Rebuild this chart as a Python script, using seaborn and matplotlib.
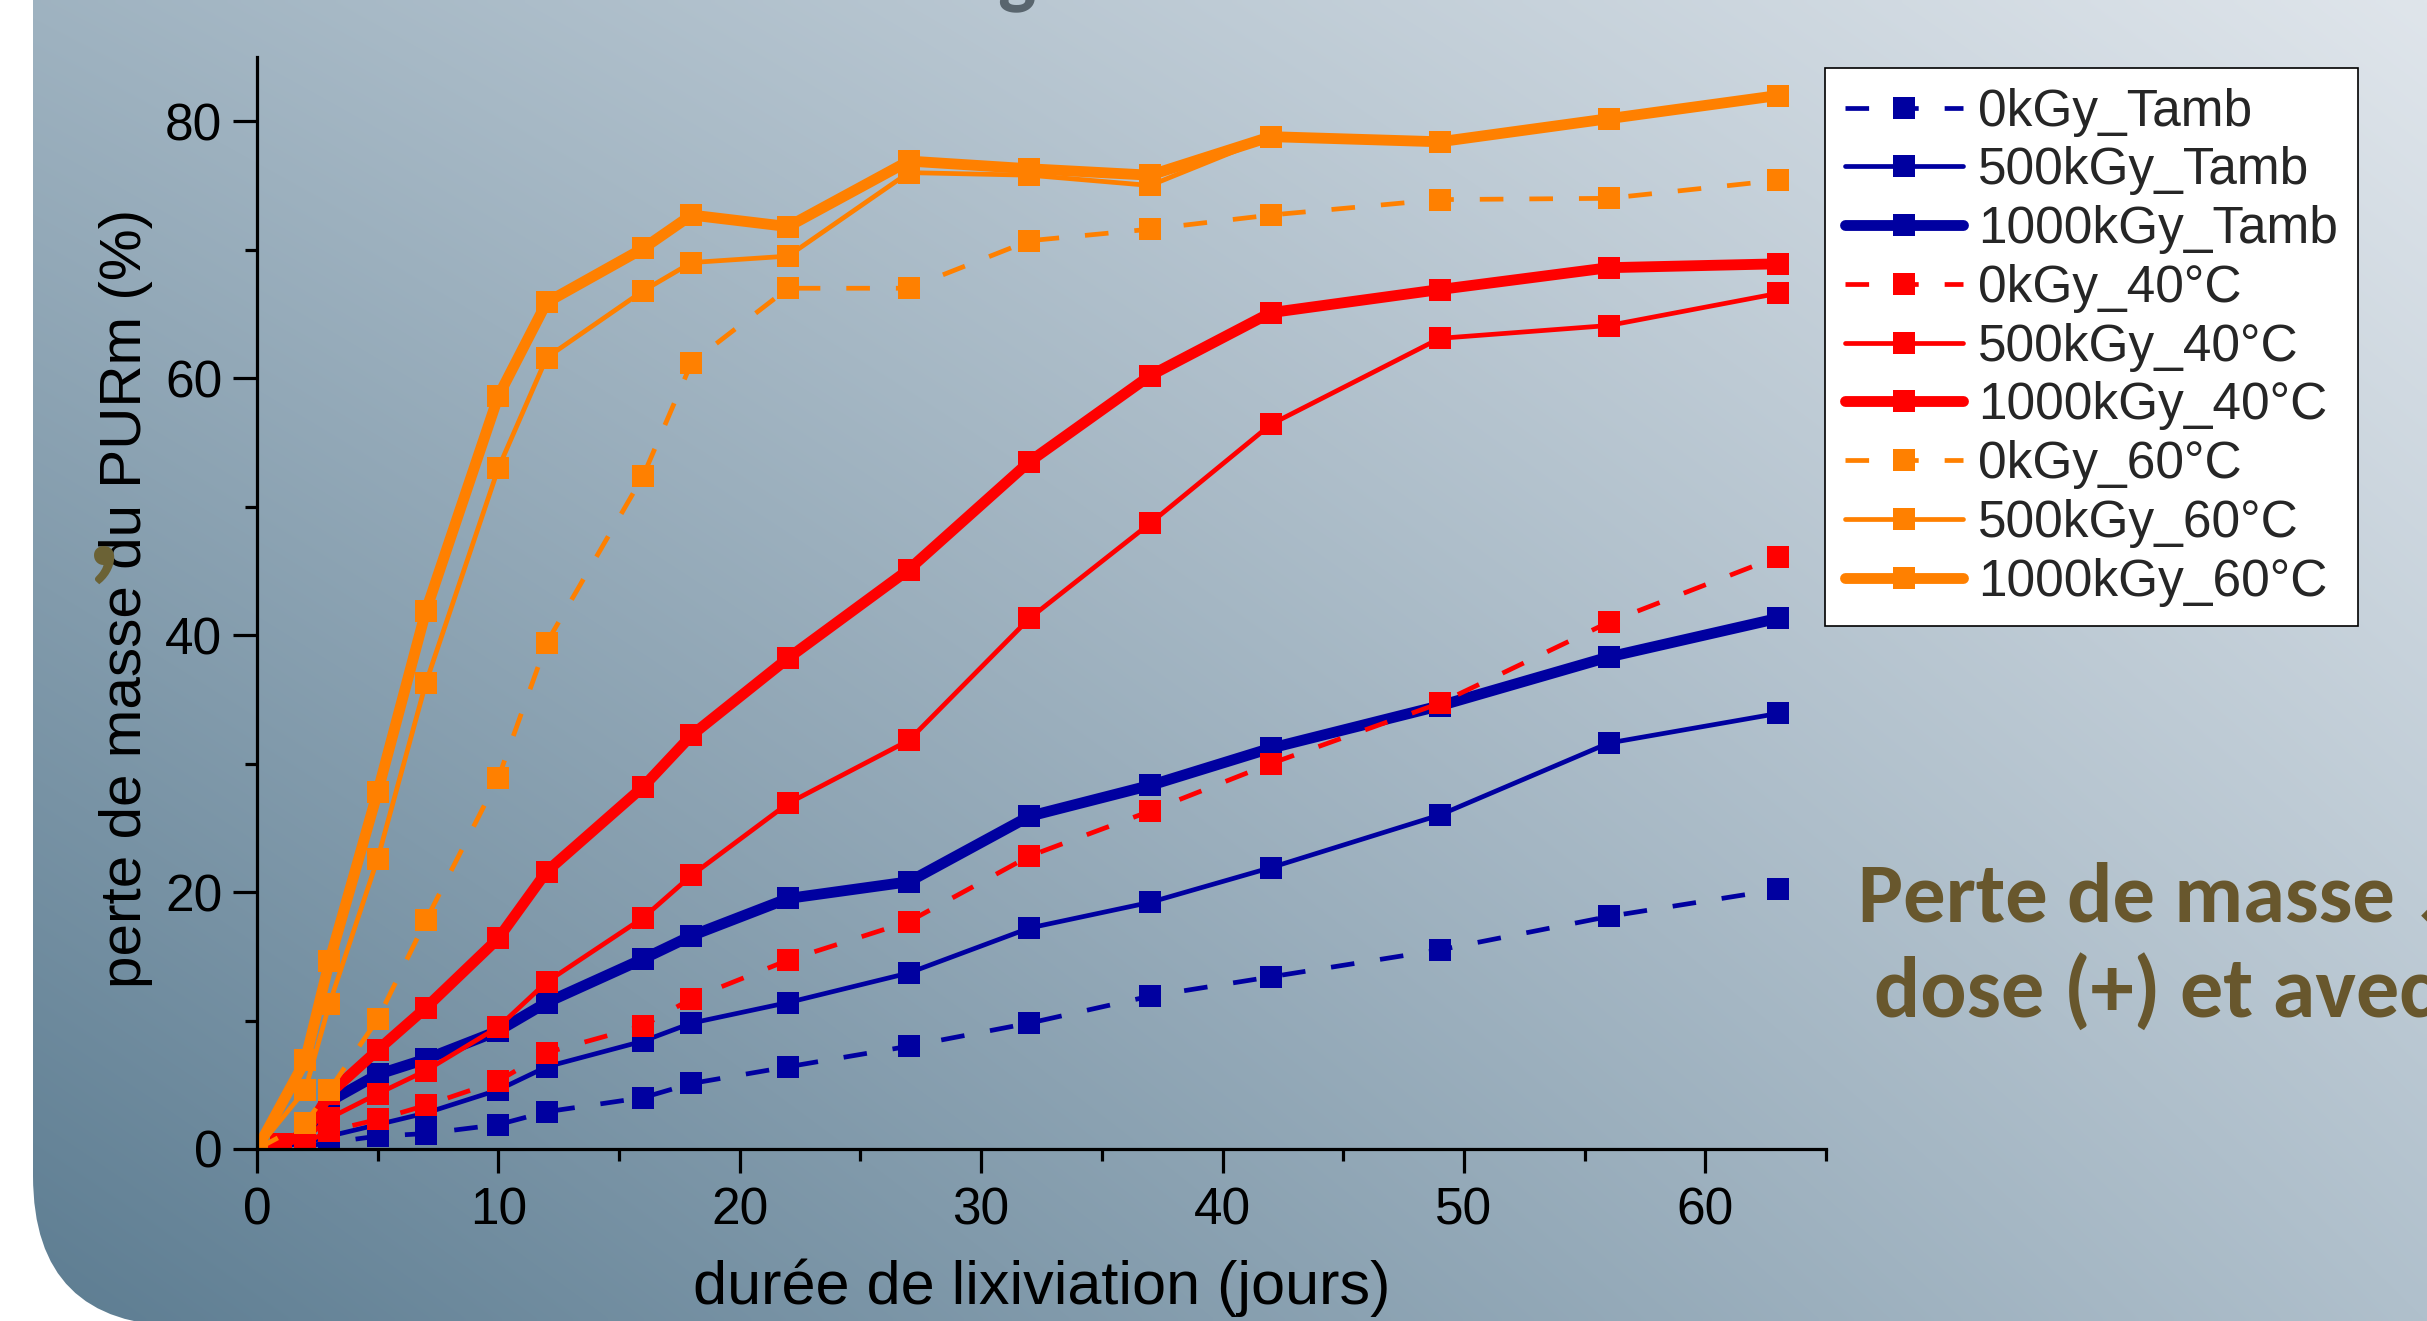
import numpy as np
import pandas as pd
import matplotlib
matplotlib.use("Agg")
import matplotlib.pyplot as plt
from matplotlib import font_manager
from matplotlib.patches import FancyBboxPatch
from matplotlib.transforms import IdentityTransform
from matplotlib.ticker import MultipleLocator
import seaborn as sns

# ---------------- data ----------------
days = [0, 1, 2, 3, 5, 7, 10, 12, 16, 18, 22, 27, 32, 37, 42, 49, 56, 63]
days_60 = [0, 2, 3, 5, 7, 10, 12, 16, 18, 22, 27, 32, 37, 42, 49, 56, 63]

loss_0kGy_Tamb = [0, 0.1, 0.2, 0.5, 1.0, 1.2, 1.9, 2.9, 4.0, 5.1, 6.4, 8.0, 9.8, 11.9, 13.4, 15.5, 18.1, 20.2]
loss_500kGy_Tamb = [0, 0.2, 0.5, 1.0, 1.9, 2.8, 4.6, 6.4, 8.4, 9.8, 11.4, 13.7, 17.2, 19.2, 21.9, 26.0, 31.6, 33.9]
loss_1000kGy_Tamb = [0, 0.3, 1.0, 3.7, 5.8, 7.0, 9.2, 11.4, 14.8, 16.6, 19.5, 20.8, 25.9, 28.3, 31.2, 34.5, 38.3, 41.3]
loss_0kGy_40 = [0, 0.2, 0.5, 1.4, 2.3, 3.4, 5.3, 7.5, 9.6, 11.7, 14.7, 17.7, 22.8, 26.3, 30.0, 34.7, 41.0, 46.1]
loss_500kGy_40 = [0, 0.3, 0.8, 2.4, 4.3, 6.1, 9.5, 13.0, 18.0, 21.3, 26.9, 31.8, 41.3, 48.7, 56.4, 63.1, 64.1, 66.6]
loss_1000kGy_40 = [0, 0.4, 1.2, 4.3, 7.7, 11.0, 16.4, 21.6, 28.2, 32.2, 38.2, 45.1, 53.5, 60.2, 65.1, 66.9, 68.6, 68.9]
loss_0kGy_60 = [0, 2.0, 4.6, 10.1, 17.8, 28.9, 39.4, 52.4, 61.2, 67.0, 67.0, 70.7, 71.6, 72.7, 73.9, 74.0, 75.4]
loss_500kGy_60 = [0, 4.6, 11.3, 22.6, 36.3, 53.0, 61.6, 66.8, 69.0, 69.5, 76.0, 75.8, 75.0, 78.8, 78.4, 80.2, 82.0]
loss_1000kGy_60 = [0, 6.9, 14.6, 27.8, 41.9, 58.6, 65.9, 70.1, 72.7, 71.8, 76.9, 76.3, 75.8, 78.8, 78.4, 80.2, 82.0]

series_names = ["0kGy_Tamb", "500kGy_Tamb", "1000kGy_Tamb",
                "0kGy_40°C", "500kGy_40°C", "1000kGy_40°C",
                "0kGy_60°C", "500kGy_60°C", "1000kGy_60°C"]
series_x = [days, days, days, days, days, days, days_60, days_60, days_60]
series_y = [loss_0kGy_Tamb, loss_500kGy_Tamb, loss_1000kGy_Tamb,
            loss_0kGy_40, loss_500kGy_40, loss_1000kGy_40,
            loss_0kGy_60, loss_500kGy_60, loss_1000kGy_60]

xlabel = "durée de lixiviation (jours)"
ylabel = "perte de masse du PURm (%)"
x_ticks = [0, 10, 20, 30, 40, 50, 60]
y_ticks = [0, 20, 40, 60, 80]

# ---------------- styles ----------------
BLUE, RED, ORANGE = "#0000a0", "#ff0000", "#ff8000"
colors = [BLUE] * 3 + [RED] * 3 + [ORANGE] * 3
widths = [3.4, 3.4, 7.8] * 3
dash = (0, (5, 5.5))
styles = [dash, "-", "-"] * 3

names = {f.name for f in font_manager.fontManager.ttflist}
SANS = "Liberation Sans" if "Liberation Sans" in names else "DejaVu Sans"
SLIDE = "Carlito" if "Carlito" in names else ("Lato" if "Lato" in names else "DejaVu Sans")

sns.set_style("ticks")
plt.rcParams["font.family"] = [SANS, "DejaVu Sans"]

W, H = 2427, 1321
fig = plt.figure(figsize=(W / 100, H / 100), dpi=100)
fig.patch.set_facecolor("white")

# ---------------- slide background ----------------
bg = fig.add_axes([0, 0, 1, 1], zorder=-10)
bg.set_axis_off()
gy, gx = np.mgrid[0:1:240j, 0:1:360j]  # gy: 0 top -> 1 bottom
tl = np.array([158, 178, 192]); tr = np.array([223, 229, 235])
bl = np.array([92, 124, 145]); br = np.array([176, 192, 204])
img = (tl * ((1 - gx) * (1 - gy))[..., None] + tr * (gx * (1 - gy))[..., None]
       + bl * ((1 - gx) * gy)[..., None] + br * (gx * gy)[..., None]) / 255.0
im = bg.imshow(img, extent=[0, 1, 0, 1], aspect="auto", origin="upper", interpolation="bilinear")
bg.set_xlim(0, 1); bg.set_ylim(0, 1)
shape = FancyBboxPatch((33, -5), 3000, 2000, boxstyle="round,pad=0,rounding_size=150",
                       transform=IdentityTransform(), facecolor="none", edgecolor="none")
im.set_clip_path(shape)

# slide texts (partly hidden / cut by the edge)
fig.text(1016 / W, 1 + 2 / H, "g", fontsize=58, fontweight="bold", color="#59656e",
         ha="center", va="baseline", family=[SLIDE, "DejaVu Sans"])
fig.text(1858 / W, 1 - 922 / H, "Perte de masse ↗ avec la", fontsize=61, fontweight="bold",
         color="#68572d", ha="left", va="baseline", family=[SLIDE, "DejaVu Sans"])
fig.text(1874 / W, 1 - 1017 / H, "dose (+) et avec la température", fontsize=62, fontweight="bold",
         color="#68572d", ha="left", va="baseline", family=[SLIDE, "DejaVu Sans"])
fig.text(104 / W, 1 - 565 / H, ",", fontsize=100, fontweight="bold", color="#6b6235",
         ha="center", va="baseline", family=[SLIDE, "DejaVu Sans"])

# ---------------- chart ----------------
ax = fig.add_axes([257 / W, 1 - 1149 / H, (1826 - 257) / W, (1149 - 57) / H])
ax.patch.set_alpha(0)

for name, xs, ys, c, lw, ls in zip(series_names, series_x, series_y, colors, widths, styles):
    df = pd.DataFrame({"jours": xs, "perte": ys})
    sns.lineplot(data=df, x="jours", y="perte", ax=ax, color=c, linewidth=lw, linestyle=ls,
                 marker="s", markersize=16, markeredgewidth=0, label=name,
                 sort=False, estimator=None)

ax.set_xlim(0, 65)
ax.set_ylim(0, 85)
ax.set_xticks(x_ticks)
ax.set_yticks(y_ticks)
ax.xaxis.set_minor_locator(MultipleLocator(5))
ax.yaxis.set_minor_locator(MultipleLocator(10))
ax.tick_params(which="major", length=17, width=2.3, color="black", labelsize=37,
               labelcolor="black", direction="out")
ax.tick_params(which="minor", length=8.5, width=2.3, color="black", direction="out")
ax.tick_params(axis="x", which="major", pad=10)
ax.tick_params(axis="y", which="major", pad=8)
for s in ["top", "right"]:
    ax.spines[s].set_visible(False)
for s in ["left", "bottom"]:
    ax.spines[s].set_linewidth(2.3)
    ax.spines[s].set_color("black")

ax.set_xlabel(xlabel, fontsize=44, color="black")
ax.set_ylabel(ylabel, fontsize=42, color="black")
ax.xaxis.set_label_coords(0.5, -0.100)
ax.yaxis.set_label_coords(-0.066, 0.504)

leg = ax.legend(loc="upper left", bbox_to_anchor=(1825 / W, 1 - 68 / H),
                bbox_transform=fig.transFigure, borderaxespad=0, fontsize=37,
                frameon=True, fancybox=False, framealpha=1, facecolor="white",
                edgecolor="black", handlelength=2.3, handletextpad=0.3,
                labelspacing=0.19, borderpad=0.38, numpoints=1)
leg.get_frame().set_linewidth(1.2)

fig.savefig("out.png", dpi=100)
